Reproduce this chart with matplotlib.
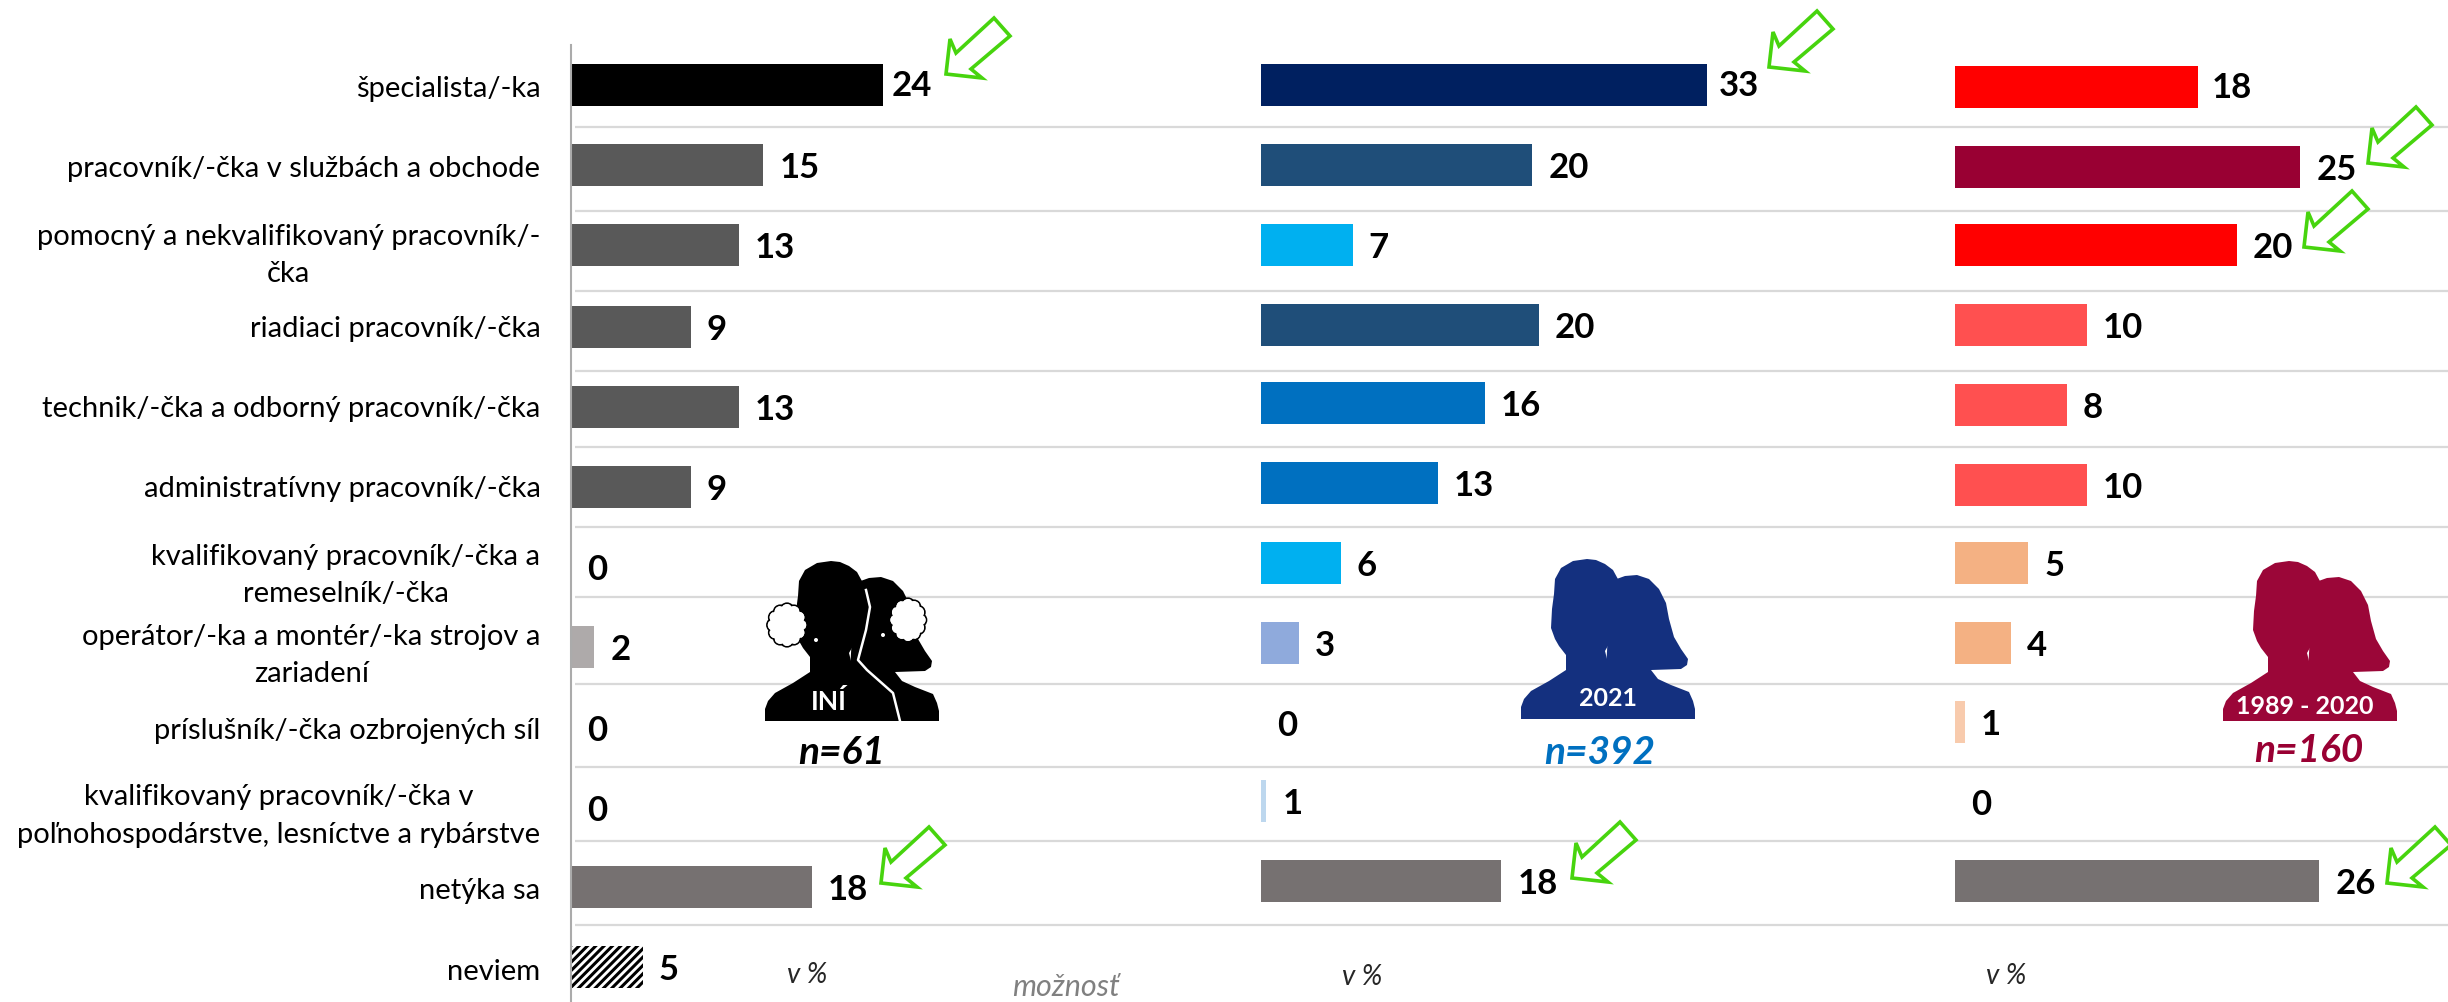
import numpy as np
import matplotlib
matplotlib.use("Agg")
import matplotlib.pyplot as plt
from matplotlib.patches import Polygon, Circle

plt.rcParams['font.family'] = ['Lato', 'DejaVu Sans']
plt.rcParams['hatch.linewidth'] = 2.2

categories = ["špecialista/-ka", "pracovník/-čka v službách a obchode",
              "pomocný a nekvalifikovaný pracovník/-\nčka", "riadiaci pracovník/-čka",
              "technik/-čka a odborný pracovník/-čka", "administratívny pracovník/-čka",
              "kvalifikovaný pracovník/-čka a\nremeselník/-čka",
              "operátor/-ka a montér/-ka strojov a\nzariadení", "príslušník/-čka ozbrojených síl",
              "kvalifikovaný pracovník/-čka v\npoľnohospodárstve, lesníctve a rybárstve",
              "netýka sa", "neviem"]

# bar lengths, labels as printed
ini_vals = [24, 14.8, 12.9, 9.2, 12.9, 9.2, 0, 1.8, 0, 0, 18.5, 5.5]
ini_labels = [24, 15, 13, 9, 13, 9, 0, 2, 0, 0, 18, 5]
y2021_vals = [33, 20.1, 6.8, 20.6, 16.6, 13.1, 5.9, 2.8, 0, 0.4, 17.8]
y2021_labels = [33, 20, 7, 20, 16, 13, 6, 3, 0, 1, 18]
old_vals = [17.9, 25.4, 20.7, 9.7, 8.2, 9.7, 5.4, 4.1, 0.7, 0, 26.8]
old_labels = [18, 25, 20, 10, 8, 10, 5, 4, 1, 0, 26]

ini_colors = ['#000000', '#595959', '#595959', '#595959', '#595959', '#595959', '#595959',
              '#AEAAAA', '#595959', '#595959', '#767171', 'white']
y2021_colors = ['#002060', '#1F4E79', '#00B0F0', '#1F4E79', '#0070C0', '#0070C0', '#00B0F0',
                '#8FAADC', '#BDD7EE', '#BDD7EE', '#767171']
old_colors = ['#FF0000', '#990033', '#FF0000', '#FF5050', '#FF5050', '#FF5050', '#F4B183',
              '#F4B183', '#F8CBAD', '#F8CBAD', '#767171']

# layout, in pixels of the 2448x1002 picture
W, H = 2448, 1002
ini_rows = [85, 165, 245, 327, 407, 487, 567, 647, 728, 808, 887, 967]
y2021_rows = [85, 165, 245, 325, 403, 483, 563, 643, 723, 801, 881]
old_rows = [87, 167, 245, 325, 405, 485, 563, 643, 722, 802, 881]
label_rows = [86, 166, 247, 327, 407, 487, 567, 647, 728, 808, 888, 969]
grid_rows = [127, 211, 291, 371, 447, 527, 597, 684, 767, 841, 925]

fig = plt.figure(figsize=(W / 100, H / 100), dpi=100, facecolor='white')


def px_axes(left, right, z):
    a = fig.add_axes([left / W, 0, (right - left) / W, 1], zorder=z)
    a.patch.set_alpha(0)
    a.set_ylim(H, 0)
    return a


back = px_axes(0, W, 0)
back.set_xlim(0, W)
back.axis('off')
for y in grid_rows:
    back.plot([575, W], [y, y], color='#D9D9D9', lw=1.6, solid_capstyle='butt')

panels = [(571, 13.0, ini_vals, ini_labels, ini_colors, ini_rows, 9),
          (1261, 13.5, y2021_vals, y2021_labels, y2021_colors, y2021_rows, 12),
          (1955, 13.6, old_vals, old_labels, old_colors, old_rows, 13)]
axes = []
for left, scale, vals, labels, colors, rows, first_gap in panels:
    ax = px_axes(left, W, 1)
    ax.set_xlim(0, (W - left) / scale)
    bars = ax.barh(rows, vals, height=42, color=colors, linewidth=0)
    for i, (v, lab, y) in enumerate(zip(vals, labels, rows)):
        gap = first_gap if i == 0 else 16
        ax.annotate(str(lab), xy=(v, y), xytext=(gap, -1 if i == 0 else -3), textcoords='offset pixels',
                    ha='left', va='center', fontsize=25, fontweight='bold', color='black')
    ax.set_xticks([])
    ax.set_yticks([])
    for s in ax.spines.values():
        s.set_visible(False)
    axes.append((ax, bars))

ax1, bars1 = axes[0]
bars1[-1].set_hatch('////')
bars1[-1].set_edgecolor('black')
bars1[-1].set_linewidth(0)
ax1.set_yticks(label_rows, categories, fontsize=21, color='black')
ax1.tick_params(axis='y', length=0, pad=22)
for t in ax1.get_yticklabels():
    t.set_multialignment('center')
    t.set_linespacing(1.55)
ax1.spines['left'].set_visible(True)
ax1.spines['left'].set_color('#ABABAB')
ax1.spines['left'].set_linewidth(1.5)
ax1.spines['left'].set_bounds(H, 45)

front = px_axes(0, W, 2)
front.set_xlim(0, W)
front.axis('off')

# green outlined arrows
arrow_shape = np.array([(0, 0), (4, -35), (10, -21), (48, -56), (64, -38), (25, -5), (36, 4)])
arrow_tips = [(946, 74), (881, 883), (1769, 67), (1572, 878), (2368, 163), (2304, 247), (2387, 883)]
for tip in arrow_tips:
    front.add_patch(Polygon(arrow_shape + tip, closed=True, fc='white', ec='#47D40E', lw=2.6,
                            joinstyle='miter', clip_on=True))

# silhouettes, outline taken from the blue one
man = np.array([(66, 0), (52, 2), (40, 9), (34, 20), (33, 35), (31, 50), (30, 69), (34, 80), (38, 87), (45, 96),
                (45, 111), (28, 122), (10, 132), (3, 140), (0, 148), (0, 160), (133, 160), (132, 148), (125, 137),
                (108, 124), (89, 112), (84, 92), (92, 78), (97, 68), (102, 50), (100, 34), (98, 22), (92, 11),
                (84, 5), (75, 1)])
woman = np.array([(90, 22), (104, 17), (116, 16), (128, 20), (138, 30), (145, 44), (148, 60), (153, 78), (160, 90),
                  (167, 100), (166, 106), (160, 110), (130, 111), (137, 120), (150, 126), (168, 133), (172, 142),
                  (174, 150), (174, 160), (125, 160), (85, 110)])
icons = [(765, 561, '#000000'), (1521, 559, '#14307F'), (2223, 561, '#9B0638')]
for x0, y0, col in icons:
    front.add_patch(Polygon(woman + (x0, y0), closed=True, fc=col, ec='none'))
    front.add_patch(Polygon(man + (x0, y0), closed=True, fc=col, ec='none'))

# white parting line and thought clouds on the black one
front.plot([866, 870, 866, 858, 867, 893, 900], [590, 607, 630, 660, 670, 693, 721], color='white', lw=1.8)


def cloud(cx, cy, rx, ry):
    ang = np.arange(0, 360, 30) * np.pi / 180
    pts = [(cx + rx * 0.8 * np.cos(a), cy + ry * 0.85 * np.sin(a)) for a in ang]
    for p in pts:
        front.add_patch(Circle(p, 6.5, fc='white', ec='black', lw=1.2, zorder=3))
    for p in pts:
        front.add_patch(Circle(p, 5.5, fc='white', ec='none', zorder=4))
    front.add_patch(Polygon(pts, closed=True, fc='white', ec='none', zorder=4))


cloud(787, 625, 17, 18)
cloud(908, 620, 15, 18)
front.add_patch(Circle((816, 640), 2, fc='white', ec='none', zorder=4))
front.add_patch(Circle((883, 635), 2, fc='white', ec='none', zorder=4))

front.text(829, 701, "INÍ", color='white', fontsize=19, fontweight='bold', ha='center', va='center')
front.text(1608, 699, "2021", color='white', fontsize=18, fontweight='bold', ha='center', va='center')
front.text(2305, 706, "1989 - 2020", color='white', fontsize=18, fontweight='bold', ha='center', va='center')

for x, y, s, col in [(842, 753, "n=61", 'black'), (1600, 753, "n=392", '#0070C0'), (2309, 751, "n=160", '#990033')]:
    front.text(x, y, s, color=col, fontsize=28, fontweight='bold', fontstyle='italic', ha='center', va='center')
for x, y in [(807, 975), (1362, 977), (2006, 976)]:
    front.text(x, y, "v %", color='#262626', fontsize=20, fontstyle='italic', ha='center', va='center')
front.text(1066, 987, "možnosť", color='#808080', fontsize=22, fontstyle='italic', ha='center', va='center')

fig.savefig("out.png", dpi=100)
